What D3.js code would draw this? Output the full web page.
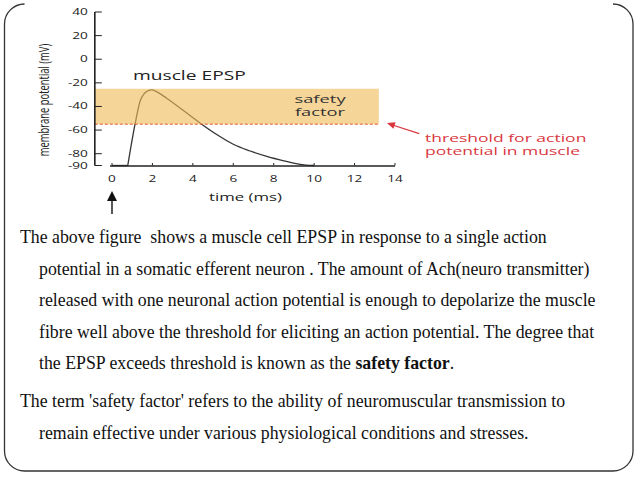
<!DOCTYPE html>
<html>
<head>
<meta charset="utf-8">
<script src="https://cdn.jsdelivr.net/npm/d3@7"></script>
<style>
  body { margin: 0; background: #fff; }
  svg { display: block; }
  .chart-text { font-family: "Open Sans", sans-serif; }
  .body-text { font-family: "Liberation Serif", "Times New Roman", serif; font-size: 17.8px; fill: #111; white-space: pre; }
</style>
</head>
<body>
<div id="visualization"></div>
<script>
// chart values
const xTicks = [0, 2, 4, 6, 8, 10, 12, 14];
const yTicks = [40, 20, 0, -20, -40, -60, -80, -90];
const epspTime = [0, 0.78, 1.14, 1.4, 1.6, 1.8, 1.97, 2.2, 2.7, 3.5, 4.35, 5.2, 6, 6.8, 7.7, 8.5, 9.3, 10];
const epspMv = [-90, -90, -55, -35, -29, -26.5, -26, -27.5, -33, -43, -54, -64, -72, -77.5, -82.5, -86, -89, -90];
const threshold = -55;
const bandTop = -25;
const bandX = [-0.85, 13.2];

const bodyLines = [
    { indent: false, parts: [["The above figure  shows a muscle cell EPSP in response to a single action", false]] },
    { indent: true, parts: [["potential in a somatic efferent neuron . The amount of Ach(neuro transmitter)", false]] },
    { indent: true, parts: [["released with one neuronal action potential is enough to depolarize the muscle", false]] },
    { indent: true, parts: [["fibre well above the threshold for eliciting an action potential. The degree that", false]] },
    { indent: true, parts: [["the EPSP exceeds threshold is known as the ", false], ["safety factor", true], [".", false]] },
    { indent: false, parts: [["The term 'safety factor' refers to the ability of neuromuscular transmission to", false]], gap: true },
    { indent: true, parts: [["remain effective under various physiological conditions and stresses.", false]] }
];

const W = 638, H = 479;
const stretch = 1.6; // the figure looks stretched sideways

const svg = d3.select("#visualization").append("svg")
    .attr("width", W)
    .attr("height", H);

svg.append("rect").attr("width", W).attr("height", H).attr("fill", "#fff");

const x = d3.scaleLinear().domain([0, 14]).range([112, 395]);
const y = d3.scaleLinear().domain([-90, 40]).range([165.5, 12]);

function stretchedText(g, px, py, str, size, anchor, color, k) {
    return g.append("text")
        .attr("class", "chart-text")
        .attr("transform", "translate(" + px + "," + py + ") scale(" + (k || stretch) + ",1)")
        .attr("text-anchor", anchor)
        .style("font-size", size + "px")
        .attr("fill", color)
        .text(str);
}

const chart = svg.append("g");

// curve first, band laid over it so the line looks brownish inside
const pts = epspTime.map((t, i) => [t, epspMv[i]]);
const line = d3.line().x(d => x(d[0])).y(d => y(d[1]));

chart.append("path")
    .datum(pts.slice(0, 2))
    .attr("fill", "none")
    .attr("stroke", "#333")
    .attr("stroke-width", 1.3)
    .attr("d", line);

chart.append("path")
    .datum(pts.slice(1))
    .attr("fill", "none")
    .attr("stroke", "#333")
    .attr("stroke-width", 1.3)
    .attr("d", line.curve(d3.curveMonotoneX));

chart.append("rect")
    .attr("x", x(bandX[0]))
    .attr("y", y(bandTop))
    .attr("width", x(bandX[1]) - x(bandX[0]))
    .attr("height", y(threshold) - y(bandTop))
    .attr("fill", "rgb(240,188,90)")
    .attr("fill-opacity", 0.62);

chart.append("line")
    .attr("x1", x(bandX[0])).attr("x2", x(bandX[1]))
    .attr("y1", y(threshold)).attr("y2", y(threshold))
    .attr("stroke", "#e4572e")
    .attr("stroke-width", 1)
    .attr("stroke-dasharray", "3,2");

// y axis
const ax = x(bandX[0]);
chart.append("line")
    .attr("x1", ax).attr("x2", ax)
    .attr("y1", y(40)).attr("y2", y(-90))
    .attr("stroke", "#222").attr("stroke-width", 1.6);

yTicks.forEach(v => {
    chart.append("line")
        .attr("x1", ax).attr("x2", ax + 7)
        .attr("y1", y(v)).attr("y2", y(v))
        .attr("stroke", "#222").attr("stroke-width", 1);
    stretchedText(chart, ax - 7, y(v) + 3, v, 8.5, "end", "#222");
});

// x axis
chart.append("line")
    .attr("x1", x(0) - 2).attr("x2", x(14))
    .attr("y1", y(-90) + 0.5).attr("y2", y(-90) + 0.5)
    .attr("stroke", "#222").attr("stroke-width", 1.3);

xTicks.forEach(v => {
    chart.append("line")
        .attr("x1", x(v)).attr("x2", x(v))
        .attr("y1", y(-90)).attr("y2", y(-90) - 2.5)
        .attr("stroke", "#222").attr("stroke-width", 1);
    stretchedText(chart, x(v), 182, v, 8.5, "middle", "#222");
});

stretchedText(chart, x(6.6), 201, "time (ms)", 10.5, "middle", "#222");

// y label, rotated
chart.append("text")
    .attr("class", "chart-text")
    .attr("transform", "translate(49,100) scale(" + stretch + ",1) rotate(-90)")
    .attr("text-anchor", "middle")
    .style("font-size", "9.4px")
    .attr("fill", "#222")
    .text("membrane potential (mV)");

stretchedText(chart, 133, 80, "muscle EPSP", 12, "start", "#222");
stretchedText(chart, 320, 102.5, "safety", 10.8, "middle", "#333", 1.7);
stretchedText(chart, 320, 115.5, "factor", 10.8, "middle", "#333", 1.7);

// stimulus arrow
const arrowX = x(0);
chart.append("line")
    .attr("x1", arrowX).attr("x2", arrowX)
    .attr("y1", 198).attr("y2", 214)
    .attr("stroke", "#111").attr("stroke-width", 1.4);
chart.append("path")
    .attr("d", "M" + arrowX + ",191 L" + (arrowX - 5) + ",201 L" + (arrowX + 5) + ",201 Z")
    .attr("fill", "#111");

// threshold arrow + label
const red = "#d9363e";
const tipX = x(13.6), tipY = y(-54), tailX = x(15.2), tailY = y(-63);
chart.append("line")
    .attr("x1", tailX).attr("y1", tailY)
    .attr("x2", tipX + 4).attr("y2", tipY + 1.5)
    .attr("stroke", red).attr("stroke-width", 1.2);
const ang = Math.atan2(tipY - tailY, tipX - tailX);
const hl = 8, hw = 3.5;
const bx = tipX - hl * Math.cos(ang), by = tipY - hl * Math.sin(ang);
chart.append("path")
    .attr("d", "M" + tipX + "," + tipY +
        " L" + (bx + hw * Math.sin(ang)) + "," + (by - hw * Math.cos(ang)) +
        " L" + (bx - hw * Math.sin(ang)) + "," + (by + hw * Math.cos(ang)) + " Z")
    .attr("fill", red);

stretchedText(chart, 425, 141.5, "threshold for action", 10.3, "start", red, 1.7);
stretchedText(chart, 425, 154.5, "potential in muscle", 10.3, "start", red, 1.7);

// frame
const fr = { l: 4.5, r: 633, t: 4, b: 471, rad: 20 };
svg.append("path")
    .attr("d", "M" + (fr.l + fr.rad) + "," + fr.t +
        " A" + fr.rad + "," + fr.rad + " 0 0 0 " + fr.l + "," + (fr.t + fr.rad) +
        " L" + fr.l + "," + (fr.b - fr.rad) +
        " A" + fr.rad + "," + fr.rad + " 0 0 0 " + (fr.l + fr.rad) + "," + fr.b +
        " L" + (fr.r - fr.rad) + "," + fr.b +
        " A" + fr.rad + "," + fr.rad + " 0 0 0 " + fr.r + "," + (fr.b - fr.rad) +
        " L" + fr.r + "," + (fr.t + fr.rad) +
        " A" + fr.rad + "," + fr.rad + " 0 0 0 " + (fr.r - fr.rad) + "," + fr.t)
    .attr("fill", "none")
    .attr("stroke", "#333")
    .attr("stroke-width", 1.3);

// body text
let by0 = 243;
bodyLines.forEach((ln, i) => {
    if (i > 0) by0 += ln.gap ? 38 : 31.5;
    const t = svg.append("text")
        .attr("class", "body-text")
        .attr("x", ln.indent ? 39 : 20)
        .attr("y", by0);
    ln.parts.forEach(p => {
        t.append("tspan")
            .style("font-weight", p[1] ? "bold" : "normal")
            .text(p[0]);
    });
});
</script>
</body>
</html>
